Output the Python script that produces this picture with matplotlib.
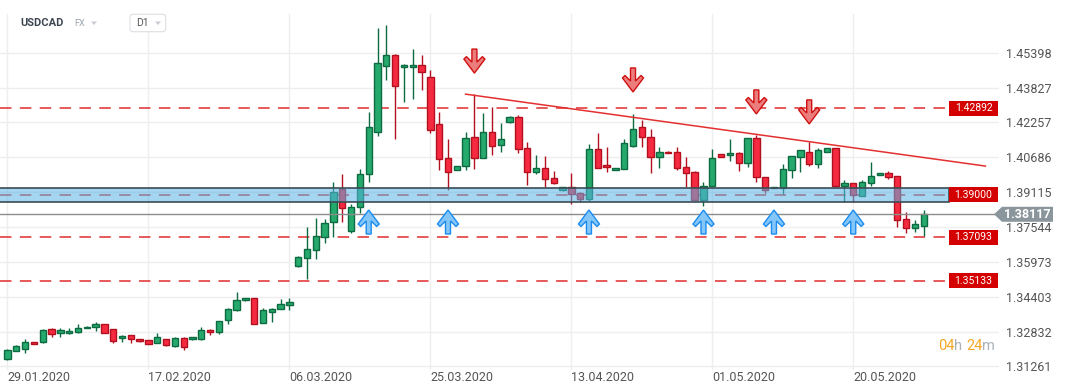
#!/usr/bin/env python3
""" USDCAD D1 candlestick chart with support zone, levels and trendline. """

import matplotlib

matplotlib.use("Agg")

import matplotlib.pyplot as plt
import numpy as np
from matplotlib.patches import Polygon, Rectangle, FancyBboxPatch
from matplotlib.transforms import IdentityTransform, blended_transform_factory

plt.rcParams["font.family"] = ["Roboto", "DejaVu Sans"]

# ---- data ----
symbol = "USDCAD"
market = "FX"
interval = "D1"
date_idx = [0, 16, 32, 48, 64, 80, 96]
date_labels = ["29.01.2020", "17.02.2020", "06.03.2020", "25.03.2020",
               "13.04.2020", "01.05.2020", "20.05.2020"]
price_ticks = [1.45398, 1.43827, 1.42257, 1.40686, 1.39115,
               1.37544, 1.35973, 1.34403, 1.32832, 1.31261]

opens = [1.31584, 1.31944, 1.32034, 1.32363, 1.32350, 1.32935, 1.32782, 1.32755,
         1.32800, 1.32980, 1.33025, 1.33161, 1.32935, 1.32530, 1.32665, 1.32485,
         1.32440, 1.32304, 1.32512, 1.32169, 1.32557, 1.32485, 1.32512, 1.32890,
         1.32800, 1.33354, 1.33805, 1.34255, 1.34332, 1.33206, 1.33728, 1.33837,
         1.34017, 1.35801, 1.36134, 1.36508, 1.37080, 1.37756, 1.39243, 1.37364,
         1.38432, 1.39919, 1.41811, 1.44785, 1.45280, 1.44753, 1.44753, 1.44830,
         1.44316, 1.42172, 1.40640, 1.40099, 1.40306, 1.41586, 1.40640, 1.41811,
         1.41225, 1.42262, 1.42487, 1.41090, 1.40009, 1.40189, 1.39739, 1.39212,
         1.39333, 1.39063, 1.38793, 1.41045, 1.40338, 1.40112, 1.40144, 1.41207,
         1.42037, 1.41613, 1.40712, 1.40937, 1.40937, 1.40234, 1.40009, 1.38761,
         1.39392, 1.40820, 1.40775, 1.40865, 1.40414, 1.41541, 1.39811, 1.39288,
         1.39315, 1.40113, 1.40712, 1.40937, 1.40369, 1.40910, 1.41090, 1.39392,
         1.39513, 1.38955, 1.39513, 1.39874, 1.39964, 1.39829, 1.37891, 1.37486,
         1.37603]
highs = [1.32034, 1.32228, 1.32485, 1.32377, 1.32935, 1.32994, 1.33007, 1.33007,
         1.33174, 1.33084, 1.33251, 1.33161, 1.32935, 1.32679, 1.32665, 1.32512,
         1.32440, 1.32782, 1.32512, 1.32602, 1.32602, 1.32602, 1.33025, 1.32949,
         1.33296, 1.33882, 1.34616, 1.34346, 1.34332, 1.33882, 1.33895, 1.34314,
         1.34332, 1.36238, 1.37531, 1.37936, 1.37905, 1.39558, 1.39932, 1.38581,
         1.40144, 1.42712, 1.46497, 1.46646, 1.45339, 1.44875, 1.45551, 1.45294,
         1.44618, 1.42712, 1.41496, 1.40306, 1.41811, 1.43523, 1.42667, 1.42938,
         1.42217, 1.42546, 1.42591, 1.41388, 1.40788, 1.40743, 1.40068, 1.39360,
         1.39964, 1.39135, 1.41271, 1.41793, 1.41135, 1.40203, 1.41509, 1.42636,
         1.42365, 1.41960, 1.41135, 1.40982, 1.41135, 1.40685, 1.40068, 1.39558,
         1.41045, 1.40856, 1.41509, 1.40937, 1.41541, 1.41690, 1.39811, 1.39360,
         1.40369, 1.40757, 1.41014, 1.41361, 1.41090, 1.41090, 1.41090, 1.39662,
         1.39541, 1.39662, 1.40460, 1.39964, 1.40068, 1.39829, 1.38207, 1.37860,
         1.38310]
lows = [1.31552, 1.31944, 1.31881, 1.32260, 1.32304, 1.32602, 1.32602, 1.32710,
        1.32782, 1.32980, 1.32872, 1.32755, 1.32332, 1.32377, 1.32332, 1.32377,
        1.32260, 1.32304, 1.32183, 1.32138, 1.32016, 1.32440, 1.32453, 1.32679,
        1.32710, 1.33161, 1.33773, 1.34210, 1.33161, 1.33206, 1.33278, 1.33837,
        1.33791, 1.35742, 1.35188, 1.36089, 1.36810, 1.37080, 1.37783, 1.37261,
        1.38189, 1.39586, 1.41658, 1.44168, 1.41496, 1.43190, 1.43312, 1.43717,
        1.41766, 1.40113, 1.39212, 1.40099, 1.40113, 1.40144, 1.40640, 1.40788,
        1.40937, 1.42217, 1.40865, 1.39437, 1.39919, 1.39360, 1.39468, 1.39180,
        1.38581, 1.38684, 1.38729, 1.40189, 1.40036, 1.40112, 1.40144, 1.41135,
        1.41135, 1.39991, 1.40216, 1.40865, 1.40113, 1.39360, 1.38716, 1.38504,
        1.39392, 1.40676, 1.40518, 1.40081, 1.40234, 1.39558, 1.39090, 1.39288,
        1.39018, 1.39739, 1.40036, 1.40306, 1.40189, 1.40910, 1.39360, 1.38684,
        1.38684, 1.38955, 1.39405, 1.39874, 1.39694, 1.37558, 1.37261, 1.37333,
        1.37152]
closes = [1.32003, 1.32183, 1.32350, 1.32260, 1.32890, 1.32710, 1.32890, 1.32845,
          1.32980, 1.33052, 1.33161, 1.32782, 1.32422, 1.32620, 1.32485, 1.32395,
          1.32260, 1.32575, 1.32214, 1.32557, 1.32124, 1.32575, 1.32890, 1.32800,
          1.33296, 1.33837, 1.34242, 1.34332, 1.33188, 1.33791, 1.33837, 1.34062,
          1.34152, 1.36179, 1.36540, 1.37153, 1.37711, 1.39108, 1.38387, 1.38459,
          1.39919, 1.42037, 1.44920, 1.45280, 1.43884, 1.44830, 1.44830, 1.44515,
          1.41901, 1.40595, 1.40009, 1.40306, 1.41541, 1.40640, 1.41811, 1.41207,
          1.41509, 1.42487, 1.41045, 1.40009, 1.40189, 1.39694, 1.39513, 1.39333,
          1.39031, 1.38793, 1.41045, 1.40189, 1.40234, 1.40203, 1.41316, 1.41946,
          1.41586, 1.40712, 1.40910, 1.40865, 1.40189, 1.39964, 1.38761, 1.39405,
          1.40640, 1.40712, 1.40865, 1.40414, 1.41541, 1.39784, 1.39212, 1.39360,
          1.40144, 1.40757, 1.41014, 1.40369, 1.41014, 1.41090, 1.39405, 1.39513,
          1.38986, 1.39558, 1.39856, 1.39964, 1.39784, 1.37860, 1.37486, 1.37666,
          1.38117]

levels = [1.42892, 1.39000, 1.37093, 1.35133]
zone_low, zone_high = 1.38657, 1.39288
last_price = 1.38117
trend_x = [52, 111]
trend_y = [1.4353, 1.4029]
sell_idx = [53, 71, 85, 91]
sell_top = [1.4556, 1.4471, 1.4372, 1.4327]
buy_idx = [41, 50, 66, 79, 87, 96]
buy_tip = 1.3831
countdown = [("04", "#f5a623"), ("h ", "#aab0b5"), ("24", "#f5a623"), ("m", "#aab0b5")]

# ---- layout (pixels) ----
W, H = 1066, 392
AX_W, AX_H = 999, 370
X0, X_PPU = -0.85, 8.81          # candle index at left edge, px per candle
Y1, Y_PPU = 1.47772, 2219.5      # price at top edge, px per price unit
LABEL_L, LABEL_R = 949, 998

GREEN, GREEN_E = "#26a96c", "#0d6b41"
RED, RED_E = "#f52a40", "#b3101f"
LEVEL_RED = "#e02b2b"

fig = plt.figure(figsize=(W / 100, H / 100), dpi=100)
ax = fig.add_axes([0, 1 - AX_H / H, AX_W / W, AX_H / H])
ax.set_xlim(X0, X0 + AX_W / X_PPU)
ax.set_ylim(Y1 - AX_H / Y_PPU, Y1)
for s in ax.spines.values():
    s.set_visible(False)

ax.set_xticks(date_idx)
ax.set_xticklabels(date_labels)
for lbl in ax.get_xticklabels():
    lbl.set_horizontalalignment("left")
ax.set_yticks(price_ticks)
ax.set_yticklabels(["%.5f" % p for p in price_ticks])
ax.yaxis.tick_right()
ax.tick_params(axis="both", length=0, labelsize=9, labelcolor="#555555")
ax.tick_params(axis="y", pad=5)
ax.tick_params(axis="x", pad=1)
ax.grid(color="#eeeeee", lw=1)
ax.set_axisbelow(True)

x_label_left = X0 + LABEL_L / X_PPU
blend = blended_transform_factory(ax.transAxes, ax.transData)

# horizontal levels
ax.hlines(levels, X0, x_label_left, colors=LEVEL_RED, lw=1.1,
          linestyles=[(0, (7.5, 5.5))], zorder=2)

# candles
idx = np.arange(len(opens))
o, hi, lo, c = map(np.array, (opens, highs, lows, closes))
up = c >= o
body_lo = np.minimum(o, c)
body_h = np.maximum(np.abs(c - o), 0.00022)
fill = np.where(up, GREEN, RED)
edge = np.where(up, GREEN_E, RED_E)
ax.vlines(idx, lo, hi, colors=edge, lw=1.0, zorder=3)
ax.bar(idx, body_h, bottom=body_lo, width=0.72, color=fill, edgecolor=edge,
       linewidth=1.0, zorder=4)

# support zone
ax.add_patch(Rectangle((X0 - 1, zone_low), x_label_left - X0 + 1, zone_high - zone_low,
                       facecolor=(0.35, 0.71, 0.9, 0.55), edgecolor="#3b4b55",
                       lw=1.2, zorder=5))

ax.axhline(last_price, color="#8c8c8c", lw=1.0, zorder=5)
ax.plot(trend_x, trend_y, color="#e53030", lw=1.1, zorder=5)

# arrows (shape in px, y downward from the top of the arrow)
down_shape = [(-2.5, 0), (2.5, 0), (2.5, 13), (8, 7.5), (10.5, 10), (0, 24),
              (-10.5, 10), (-8, 7.5), (-2.5, 13)]
up_shape = [(dx, 24 - dy) for dx, dy in down_shape]


def arrow(cx, ytop, shape, fc, ec):
    pts = [(cx + dx / X_PPU, ytop - dy / Y_PPU) for dx, dy in shape]
    ax.add_patch(Polygon(pts, closed=True, facecolor=fc, edgecolor=ec, lw=1.0, zorder=6))


for i, t in zip(sell_idx, sell_top):
    arrow(i, t, down_shape, "#ec7d7d", "#d01010")
for i in buy_idx:
    arrow(i, buy_tip, up_shape, "#84c6f7", "#1a8cf0")

# level labels
for lv in levels:
    ax.add_patch(Rectangle((LABEL_L / AX_W, lv - 7.5 / Y_PPU), (LABEL_R - LABEL_L) / AX_W,
                           15 / Y_PPU, transform=blend, facecolor="#d40000",
                           edgecolor="none", zorder=7))
    ax.text((LABEL_L + LABEL_R) / 2 / AX_W, lv, "%.5f" % lv, transform=blend,
            ha="center", va="center", color="white", fontsize=7.5, zorder=8)

# last price tag
tag = [(994, 0), (1002, 7.5), (1053, 7.5), (1053, -7.5), (1002, -7.5)]
ax.add_patch(Polygon([(px / AX_W, last_price + dy / Y_PPU) for px, dy in tag],
                     closed=True, transform=blend, facecolor="#8b969c",
                     edgecolor="none", clip_on=False, zorder=7))
ax.text(1027.5 / AX_W, last_price, "%.5f" % last_price, transform=blend,
        ha="center", va="center", color="white", fontsize=9, fontweight="bold",
        clip_on=False, zorder=8)

# header
px = IdentityTransform()
fig.add_artist(Rectangle((0, H - 14), AX_W, 14, transform=px, facecolor="white",
                         edgecolor="none", zorder=1))
fig.add_artist(FancyBboxPatch((130, H - 31.7), 35.7, 17.4,
                              boxstyle="round,pad=0,rounding_size=3", transform=px,
                              facecolor="white", edgecolor="#dcdfe3", lw=0.8, zorder=1))
fig.text(20 / W, 1 - 23.3 / H, symbol, fontsize=8, fontweight="bold",
         color="#3c4650", va="center")
fig.text(74 / W, 1 - 24 / H, market, fontsize=6.5, color="#9aa4ad", va="center")
fig.text(136 / W, 1 - 23.5 / H, interval, fontsize=7.5, color="#555555", va="center")
for x1 in (91, 155):
    fig.add_artist(Polygon([(x1, H - 21.5), (x1 + 6, H - 21.5), (x1 + 3, H - 25)],
                           closed=True, transform=px, facecolor="#c8cdd2",
                           edgecolor="none", zorder=2))

# countdown
prev = None
for txt, col in countdown:
    if prev is None:
        prev = fig.text(938 / W, 1 - 346 / H, txt, color=col, fontsize=10.5, va="center")
    else:
        prev = ax.annotate(txt, xy=(1, 0), xycoords=prev, va="bottom", ha="left",
                           color=col, fontsize=10.5, annotation_clip=False)

plt.savefig("out.png", dpi=100)
plt.close()
